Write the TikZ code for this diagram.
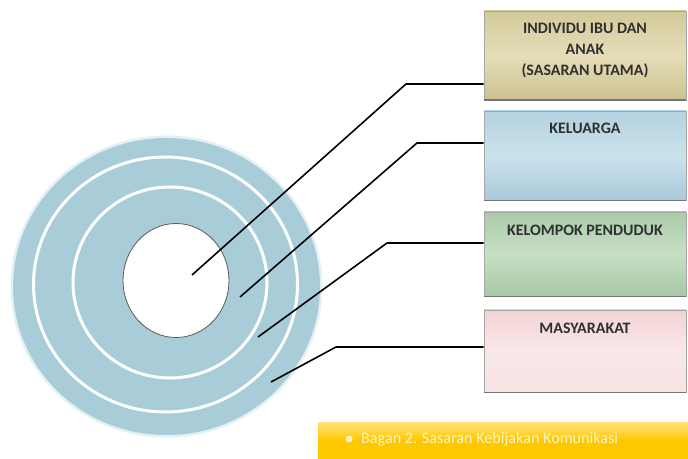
\documentclass[tikz,border=0pt]{standalone}
\usepackage{fontspec}
\setmainfont{Carlito}
\usetikzlibrary{positioning}
\definecolor{ringblue}{HTML}{A9CDD8}
\definecolor{halo}{HTML}{E3F0F4}
\definecolor{tanT}{HTML}{D3CA9A}\definecolor{tanM}{HTML}{E4DDB8}\definecolor{tanB}{HTML}{CDC28F}
\definecolor{bluT}{HTML}{B3D2DF}\definecolor{bluM}{HTML}{CBE2EB}\definecolor{bluB}{HTML}{A8CADA}
\definecolor{grnT}{HTML}{AACBA9}\definecolor{grnM}{HTML}{C8DFC5}\definecolor{grnB}{HTML}{A6C8A4}
\definecolor{pnkT}{HTML}{F3D3D5}\definecolor{pnkM}{HTML}{F9E8E9}\definecolor{pnkB}{HTML}{F6E3E4}
\definecolor{gold}{HTML}{FDC800}
\definecolor{goldlight}{HTML}{FFE27A}
\definecolor{captxt}{HTML}{FFF4C0}
\definecolor{labeltxt}{HTML}{303030}
\tikzset{
  boxstyle/.style={rectangle, draw=black!35, line width=0.6pt, minimum width=202bp, inner sep=0pt},
  boxlabel/.style={text=labeltxt, font=\fontsize{16}{21}\selectfont\bfseries, align=center, inner sep=0pt},
  leader/.style={draw=black, line width=1.6pt, line join=round},
  ring/.style={draw=white, line width=3bp},
}
\begin{document}
\begin{tikzpicture}[x=1bp, y=-1bp]
\useasboundingbox (0,0) rectangle (688,459);
\fill[white] (0,0) rectangle (688,459);

% target rings
\fill[halo] (166.5,286.5) ellipse [x radius=156, y radius=151];
\fill[ringblue] (166.5,286.5) ellipse [x radius=153.5, y radius=148.5];
\draw[ring] (165.5,284.5) ellipse [x radius=132, y radius=127.5];
\draw[ring] (170,282.5) ellipse [x radius=97, y radius=95.5];
\filldraw[fill=white, draw=black!65, line width=0.8pt] (176,280.5) ellipse [x radius=53, y radius=57];

% label boxes
\node[boxstyle, minimum height=89bp, top color=tanT, bottom color=tanB, middle color=tanM] (b1) at (585,55.5) {};
\node[boxstyle, minimum height=89bp, top color=bluT, bottom color=bluB, middle color=bluM] (b2) at (585,155.5) {};
\node[boxstyle, minimum height=84bp, top color=grnT, bottom color=grnB, middle color=grnM] (b3) at (585,254) {};
\node[boxstyle, minimum height=82bp, top color=pnkT, bottom color=pnkB, middle color=pnkM] (b4) at (585,351) {};
\foreach \b in {b1,b2,b3,b4}{
  \draw[black!55, line width=1.6pt] (\b.south west) -- (\b.south east);
}

\node[boxlabel, below=12bp of b1.north] (t1) {INDIVIDU IBU DAN\\ANAK\\(SASARAN UTAMA)};
\node[boxlabel, below=12bp of b2.north] (t2) {KELUARGA};
\node[boxlabel, below=13bp of b3.north] (t3) {KELOMPOK PENDUDUK};
\node[boxlabel, below=13bp of b4.north] (t4) {MASYARAKAT};

% leader lines
\coordinate (s1) at (192,275);  \coordinate (k1) at (406,84);
\coordinate (s2) at (240,297);  \coordinate (k2) at (417,143);
\coordinate (s3) at (258,337);  \coordinate (k3) at (387,243);
\coordinate (s4) at (271,382);  \coordinate (k4) at (336,347);
\draw[leader] (s1) -- (k1) -- (k1 -| b1.west);
\draw[leader] (s2) -- (k2) -- (k2 -| b2.west);
\draw[leader] (s3) -- (k3) -- (k3 -| b3.west);
\draw[leader] (s4) -- (k4) -- (k4 -| b4.west);

% caption bar
\node[rectangle, inner sep=0pt, minimum width=370bp, minimum height=37bp,
      top color=goldlight, bottom color=gold, middle color=gold, anchor=north west] (cap) at (318,422) {};
\fill[captxt] (349,439) circle (3.5bp);
\node[anchor=west, text=captxt, font=\fontsize{16.2}{18}\selectfont, inner sep=0pt] (ct) at (361,439.5) {Bagan 2. Sasaran Kebijakan Komunikasi};
\end{tikzpicture}
\end{document}
